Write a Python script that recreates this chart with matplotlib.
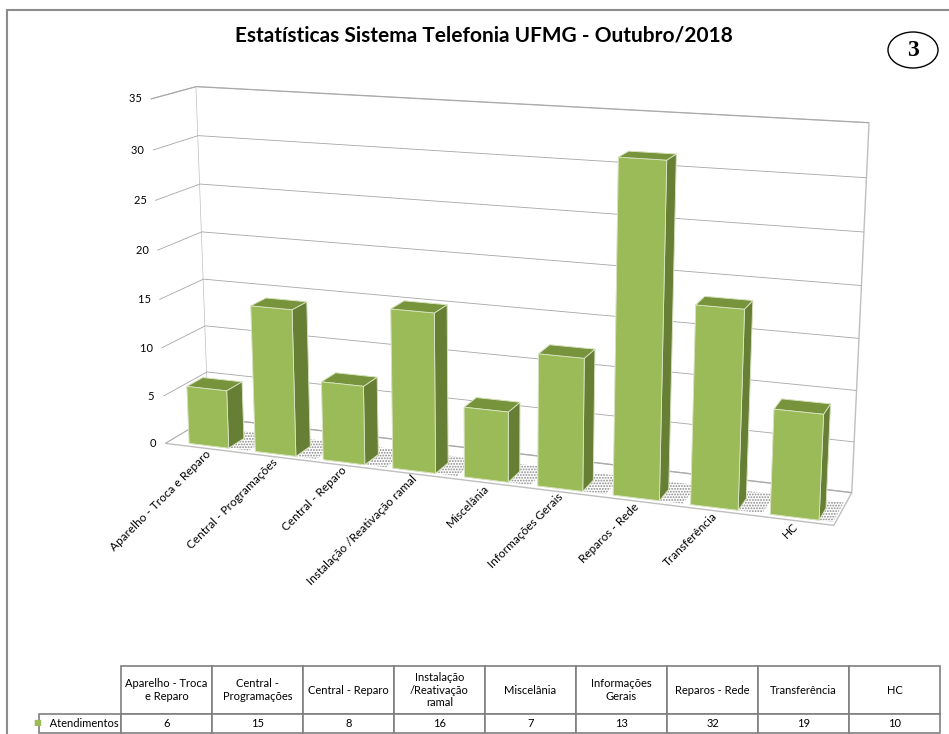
import matplotlib
matplotlib.use('Agg')
import matplotlib.pyplot as plt
import numpy as np
from matplotlib.patches import Rectangle, Ellipse
from mpl_toolkits.mplot3d import proj3d
from mpl_toolkits.mplot3d.art3d import Poly3DCollection

# dados do gráfico
categorias = ['Aparelho - Troca e Reparo', 'Central - Programações', 'Central - Reparo',
              'Instalação /Reativação ramal', 'Miscelânia', 'Informações Gerais',
              'Reparos - Rede', 'Transferência', 'HC']
cabecalho_tabela = ['Aparelho - Troca\ne Reparo', 'Central -\nProgramações', 'Central - Reparo',
                    'Instalação\n/Reativação\nramal', 'Miscelânia', 'Informações\nGerais',
                    'Reparos - Rede', 'Transferência', 'HC']
atendimentos = [6, 15, 8, 16, 7, 13, 32, 19, 10]
ticks_z = [0, 5, 10, 15, 20, 25, 30, 35]
serie = 'Atendimentos'

plt.rcParams['font.family'] = ['Lato', 'DejaVu Sans']
plt.rcParams['grid.color'] = '#A6A6A6'
plt.rcParams['grid.linewidth'] = 0.6
plt.rcParams['hatch.linewidth'] = 0.9

W, H = 949, 734
fig = plt.figure(figsize=(W / 100, H / 100), dpi=100)

# moldura externa
fig.patches.append(Rectangle((7 / W, -0.01), 1.02, 1 - 10 / H + 0.01, transform=fig.transFigure,
                             fill=False, edgecolor='#8C8C8C', linewidth=1.5))

fig.text(484 / W, 1 - 35 / H, 'Estatísticas Sistema Telefonia UFMG - Outubro/2018',
         ha='center', va='center', fontsize=15, fontweight='bold')
fig.patches.append(Ellipse((913 / W, 1 - 50 / H), 50 / W, 36 / H, transform=fig.transFigure,
                           fill=False, edgecolor='black', linewidth=1))
fig.text(913 / W, 1 - 50 / H, '3', ha='center', va='center', fontsize=17, fontweight='bold',
         family='Liberation Serif')

# grafico 3d
ax = fig.add_axes([0.014, 0.18, 1.0, 0.82], projection='3d')
ax.set_proj_type('persp', focal_length=0.6)
ax.computed_zorder = False
n = len(atendimentos)
largura = 0.6
prof = 0.4
xmin, xmax = -0.6, n - 0.5
ymin, ymax = -0.1, 1.0

# sombras no piso
for i in range(n):
    x0, x1 = i - largura / 2 + 0.05, min(i + largura / 2 + 0.3, xmax - 0.03)
    y0, y1 = 0.0, prof + 0.25
    sombra = Poly3DCollection([[(x0, y0, 0), (x1, y0, 0), (x1, y1, 0), (x0, y1, 0)]],
                              facecolors=[(1, 1, 1, 0)], edgecolors=['#8A8A8A'],
                              hatch='......', linewidths=0, zorder=1)
    sombra.set_clip_on(False)
    ax.add_collection3d(sombra)

# faces: -z, +z, -y, +y, -x, +x
cores_faces = ['#9BBB59', '#77933C', '#9BBB59', '#9BBB59', '#9BBB59', '#677F35']
for i, v in enumerate(atendimentos):
    barra = ax.bar3d(i - largura / 2, 0, 0, largura, prof, v, color=cores_faces, shade=False,
                     edgecolor='#DCE6C6', linewidth=0.6)
    barra.set_clip_on(False)
    barra.set_zorder(2 + i)

ax.set_xlim(xmin, xmax)
ax.set_ylim(ymin, ymax)
ax.set_zlim(0, 35)
ax.set_xticks([])
ax.set_yticks([])
ax.set_zticks(ticks_z)
ax.zaxis.set_ticklabels([])
ax.zaxis._axinfo['tick']['inward_factor'] = 0
ax.zaxis._axinfo['tick']['outward_factor'] = 0
ax.view_init(elev=14, azim=-70)
ax.set_box_aspect((8.9, 1.2, 4.6), zoom=1.3)

for eixo in (ax.xaxis, ax.yaxis, ax.zaxis):
    eixo.set_pane_color((1, 1, 1, 1))
    eixo.pane.set_edgecolor('#BFBFBF')
    eixo.line.set_color((1, 1, 1, 0))

fig.canvas.draw()
M = ax.get_proj()

# rotulos das categorias e do eixo z
for i, nome in enumerate(categorias):
    px, py, _ = proj3d.proj_transform(i, ymin, 0, M)
    ax.text2D(px, py, nome, transform=ax.transData, rotation=45, ha='right', va='top',
              rotation_mode='anchor', fontsize=8.5)
for t in ticks_z:
    px, py, _ = proj3d.proj_transform(xmin, ymin, t, M)
    ax.text2D(px, py, str(t) + '   ', transform=ax.transData, ha='right', va='center',
              fontsize=8)

# tabela de dados
larg_tab = 940 - 121
alt_tab = 733 - 666
tab_ax = fig.add_axes([121 / W, 1 - 733 / H, larg_tab / W, alt_tab / H])
tab_ax.axis('off')
tabela = tab_ax.table(cellText=[[str(v) for v in atendimentos]], rowLabels=['   ' + serie],
                      colLabels=cabecalho_tabela, cellLoc='center', rowLoc='left',
                      bbox=[0, 0, 1, 1])
tabela.auto_set_font_size(False)
tabela.set_fontsize(8)
for (r, c), cel in tabela.get_celld().items():
    cel.set_edgecolor('#7F7F7F')
    cel.set_linewidth(1.2)
    cel.set_width((94 if c == -1 else 91) / larg_tab)
    cel.set_height((48 if r == 0 else 19) / alt_tab)
    cel.PAD = 0.03
fig.text(33 / W, 1 - 723 / H, '■', color='#9BBB59', fontsize=6, va='center', ha='left',
         family='DejaVu Sans')

fig.savefig('out.png', dpi=100)
